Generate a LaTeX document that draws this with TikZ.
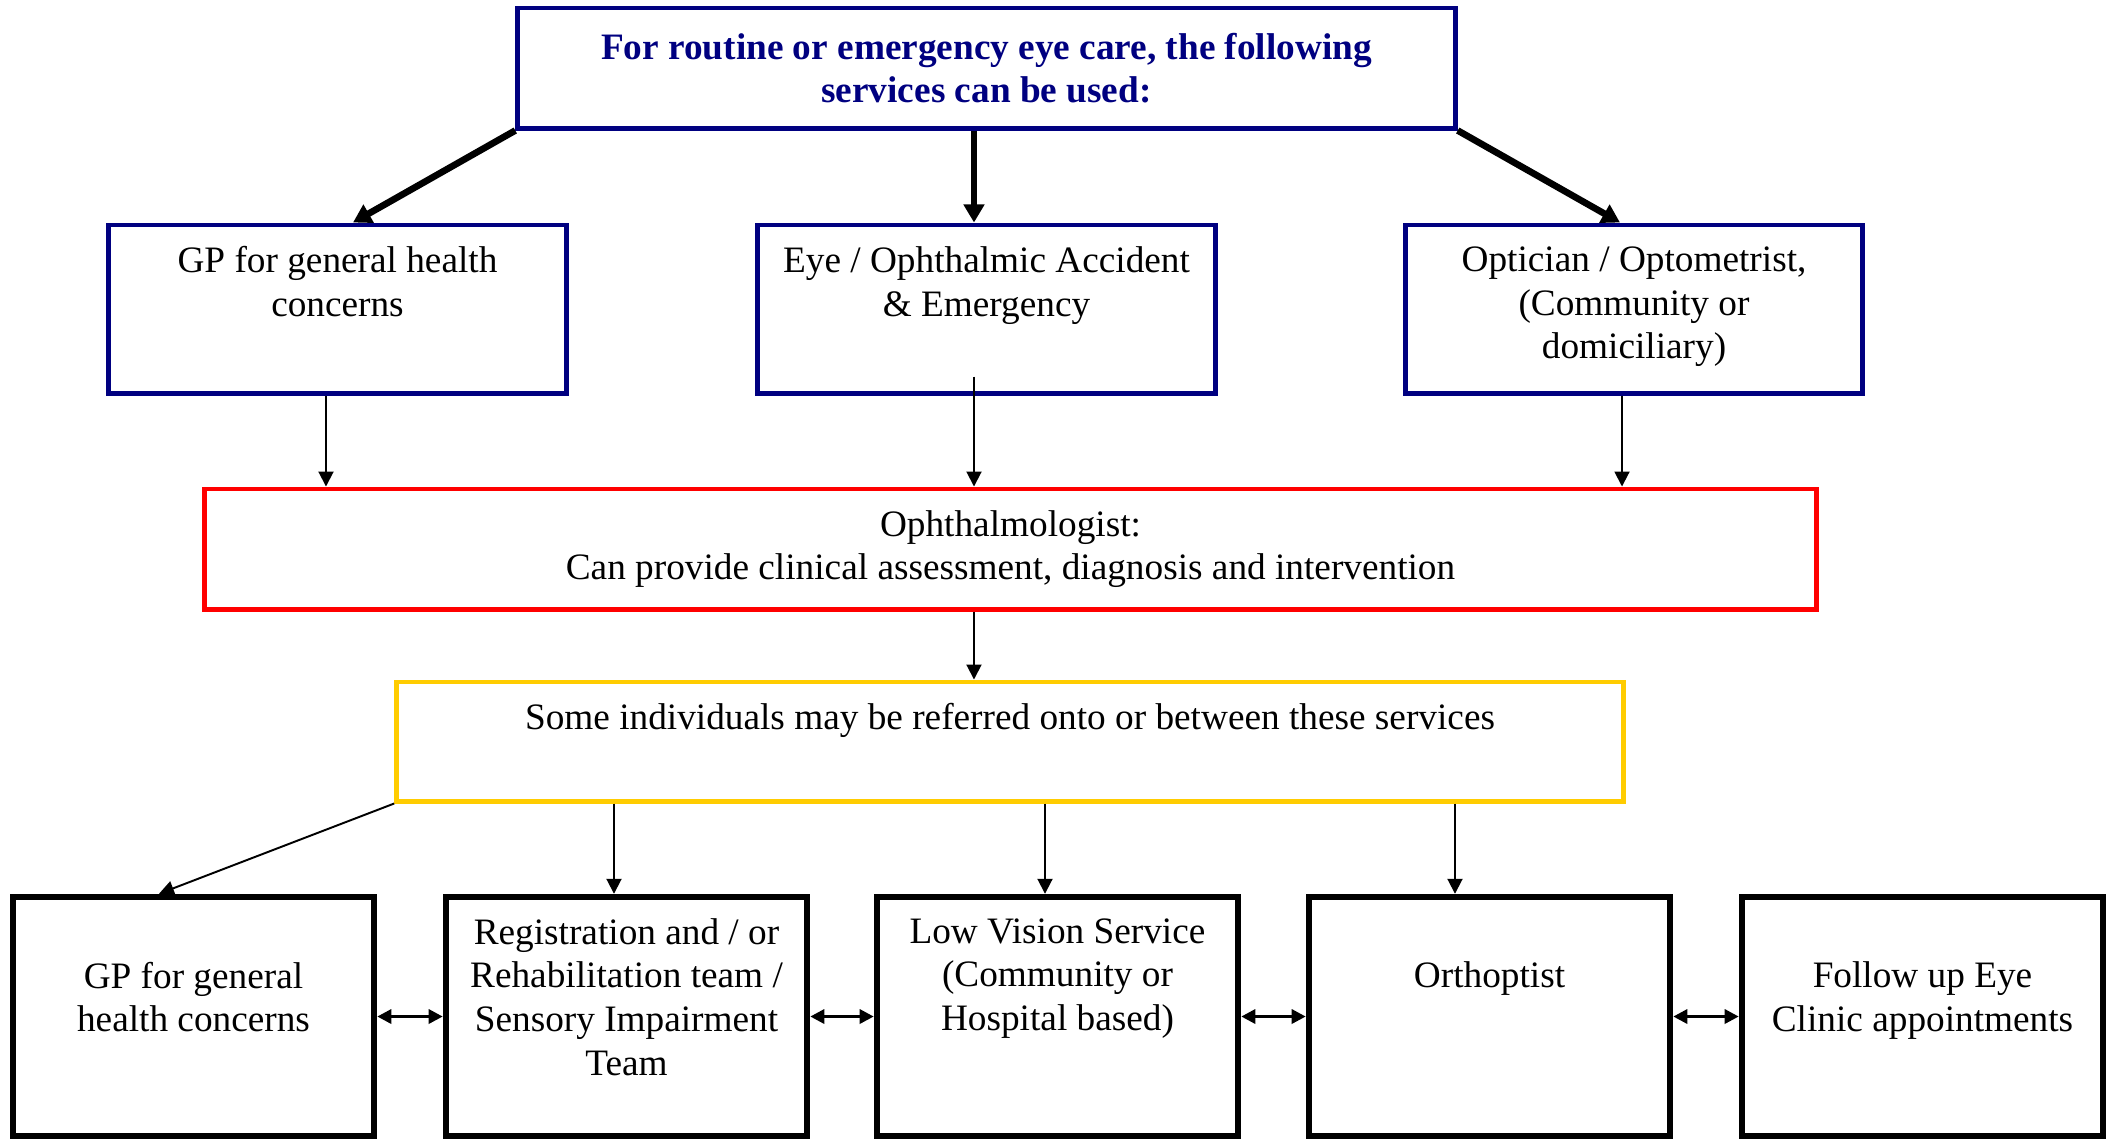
\documentclass[tikz,border=0pt]{standalone}
\usepackage{fontspec}
\setmainfont{Liberation Serif}
\usepackage{xcolor}
\usepackage{tikz}
\usetikzlibrary{arrows.meta,positioning}
\definecolor{carenavy}{HTML}{000080}
\definecolor{carered}{HTML}{FF0000}
\definecolor{careyellow}{HTML}{FFCC00}
\tikzset{
  plain text/.style={font=\fontsize{10.6}{12.4}\selectfont,align=center,inner sep=0pt},
  title box/.style={draw=carenavy,line width=1.4pt,minimum width=9.37cm,minimum height=1.2cm,
    font=\fontsize{10.6}{12.2}\selectfont\bfseries,text=carenavy,align=center},
  entry box/.style={draw=carenavy,line width=1.4pt,minimum width=4.57cm,minimum height=1.68cm},
  oph box/.style={draw=carered,line width=1.4pt,minimum width=16.11cm,minimum height=1.2cm,
    plain text},
  refer box/.style={draw=careyellow,line width=1.4pt,minimum width=12.26cm,minimum height=1.19cm},
  service box/.style={draw=black,line width=1.8pt,minimum width=3.61cm,minimum height=2.39cm},
  main arrow/.style={line width=1.9pt,-{Triangle[length=0.18cm,width=0.2cm]}},
  feed/.style={line width=0.55pt,-{Triangle[length=0.15cm,width=0.15cm]}},
  link/.style={line width=0.9pt,{Triangle[length=0.14cm,width=0.14cm]}-{Triangle[length=0.14cm,width=0.14cm]}}
}
\begin{document}
\begin{tikzpicture}[x=0.01cm,y=-0.01cm]
  \useasboundingbox (0,0) rectangle (2112,1138);
  % top of the chart
  \node[title box] (top) at (986.5,68)
    {For routine or emergency eye care, the following\\services can be used:};
  \node[entry box] (gp) at (337.5,309) {};
  \node[entry box] (ae) at (986.5,309) {};
  \node[entry box] (opt) at (1634,309) {};
  \node[plain text,below=0.235cm of gp.north] (gptext) {GP for general health\\concerns};
  \node[plain text,below=0.235cm of ae.north] (aetext) {Eye / Ophthalmic Accident\\\& Emergency};
  \node[plain text,below=0.235cm of opt.north] (opttext) {Optician / Optometrist,\\(Community or\\domiciliary)};
  \draw[main arrow] (top.south west) -- ([xshift=0.155cm]gp.north);
  \draw[main arrow] ([xshift=-0.125cm]ae.north |- top.south) -- ([xshift=-0.125cm]ae.north);
  \draw[main arrow] (top.south east) -- ([xshift=-0.14cm]opt.north);
  % ophthalmologist and referral
  \node[oph box] (oph) at (1010.5,549)
    {Ophthalmologist:\\Can provide clinical assessment, diagnosis and intervention};
  \draw[feed] ([xshift=-0.115cm]gp.south) -- ([xshift=-0.115cm]gp.south |- oph.north);
  \draw[feed] ([xshift=-0.125cm,yshift=0.19cm]ae.south) -- ([xshift=-0.125cm]ae.south |- oph.north);
  \draw[feed] ([xshift=-0.12cm]opt.south) -- ([xshift=-0.12cm]opt.south |- oph.north);
  \node[refer box] (refer) at (1010,741.5) {};
  \node[plain text,below=0.235cm of refer.north] (refertext)
    {Some individuals may be referred onto or between these services};
  \draw[feed] ([xshift=-0.365cm]oph.south) -- ([xshift=-0.365cm]oph.south |- refer.north);
  % services further on
  \node[service box] (gpb) at (193.5,1016.5) {};
  \node[service box] (reg) at (626.5,1016.5) {};
  \node[service box] (low) at (1057.5,1016.5) {};
  \node[service box] (orth) at (1489.5,1016.5) {};
  \node[service box] (follow) at (1922.5,1016.5) {};
  \node[plain text,below=0.675cm of gpb.north] (gpbtext) {GP for general\\health concerns};
  \node[plain text,below=0.24cm of reg.north] (regtext)
    {Registration and / or\\Rehabilitation team /\\Sensory Impairment\\Team};
  \node[plain text,below=0.24cm of low.north] (lowtext)
    {Low Vision Service\\(Community or\\Hospital based)};
  \node[plain text,below=0.675cm of orth.north] (orthtext) {Orthoptist};
  \node[plain text,below=0.675cm of follow.north] (followtext) {Follow up Eye\\Clinic appointments};
  \draw[feed] (refer.south west) -- ([xshift=-0.345cm]gpb.north);
  \draw[feed] ([xshift=-0.125cm]reg.north |- refer.south) -- ([xshift=-0.125cm]reg.north);
  \draw[feed] ([xshift=-0.125cm]low.north |- refer.south) -- ([xshift=-0.125cm]low.north);
  \draw[feed] ([xshift=-0.345cm]orth.north |- refer.south) -- ([xshift=-0.345cm]orth.north);
  \foreach \a/\b in {gpb/reg,reg/low,low/orth,orth/follow}
    \draw[link] (\a.east) -- (\b.west);
\end{tikzpicture}
\end{document}
